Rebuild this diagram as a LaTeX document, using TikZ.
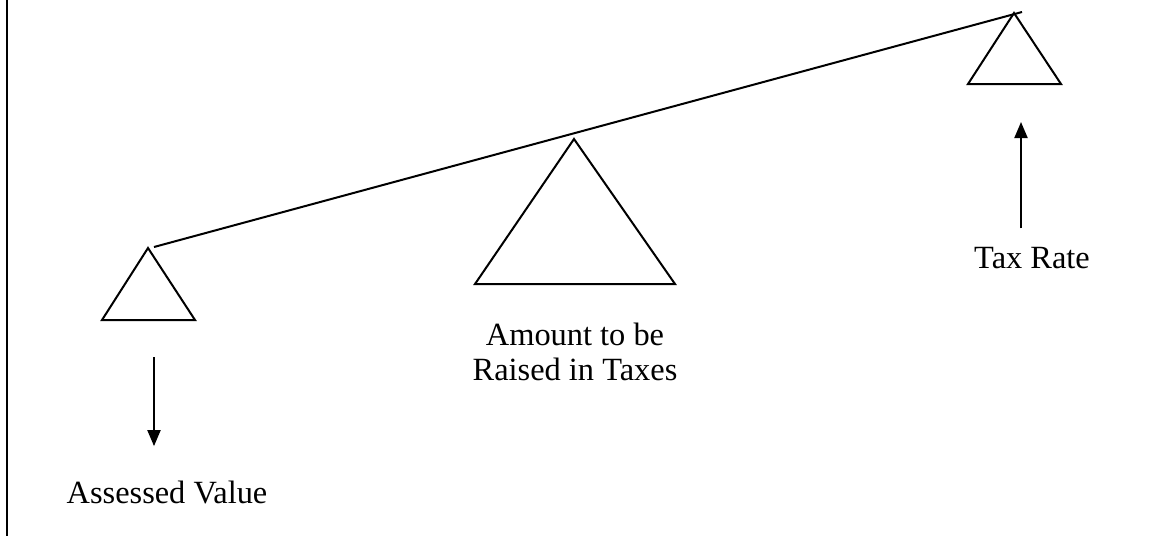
\documentclass[tikz,border=0pt]{standalone}
\usepackage{fontspec}
\setmainfont{Liberation Serif}
\usetikzlibrary{arrows.meta}

\begin{document}
\begin{tikzpicture}[
  x=0.5pt, y=-0.5pt,
  font=\fontsize{16.2}{17.5}\selectfont,
  tri/.style={draw=black, line width=1pt, line join=miter},
  beam/.style={draw=black, line width=1pt},
  label/.style={inner sep=0pt, align=center},
  arrow/.style={-{Triangle[width=6.5pt,length=8pt]}, line width=1pt}
]
\useasboundingbox (0,0) rectangle (1150,536);

\draw[line width=1.2pt] (7,0) -- (7,536);

% the three supports
\draw[tri] (102,320) -- (148,248) -- (195,320) -- cycle;
\draw[tri] (475,284) -- (574,139) -- (675,284) -- cycle;
\draw[tri] (968,84) -- (1014,13) -- (1061,84) -- cycle;

\coordinate (leftEnd) at (154,247);
\coordinate (rightEnd) at (1022,12);
\draw[beam] (leftEnd) -- (rightEnd);

\node[label, anchor=base] (assessed) at (167,503) {Assessed Value};
\node[label] (amount) at (575,352) {Amount to be\\Raised in Taxes};
\node[label, anchor=base] (taxrate) at (1032,268) {Tax Rate};

\coordinate (avTail) at (154,357);
\coordinate (trTip) at (1021,122);
\draw[arrow, shorten >=17pt] (avTail) -- (avTail |- assessed.north);
\draw[arrow] (trTip |- taxrate.north) ++(0,-18) -- (trTip);
\end{tikzpicture}
\end{document}
